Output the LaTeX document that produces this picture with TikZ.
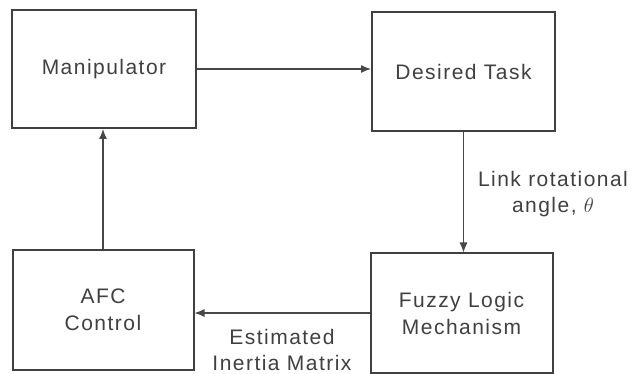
\documentclass[tikz,border=0pt]{standalone}
\usepackage{fontspec}
\setmainfont{Liberation Sans}[LetterSpace=7]
\usetikzlibrary{arrows.meta}
\definecolor{boxline}{gray}{0.25}
\definecolor{flowline}{gray}{0.28}
\definecolor{inktext}{gray}{0.25}
\tikzset{
  blk/.style={draw=boxline,line width=2pt,fill=white,align=center,text=inktext,
    font=\fontsize{21}{27}\selectfont,inner sep=0pt},
  flow/.style={draw=flowline,line width=1.2pt,-{Latex[length=10pt,width=8pt]}},
  note/.style={align=center,text=inktext,font=\fontsize{21}{26}\selectfont,inner sep=0pt},
}
\begin{document}
\begin{tikzpicture}[x=1pt,y=-1pt]
  \useasboundingbox (0,0) rectangle (632,374);
  \node[blk,minimum width=184pt,minimum height=118pt] (manip) at (104,69) {Manipulator};
  \node[blk,minimum width=183pt,minimum height=119pt] (task) at (463.5,72) {Desired Task};
  \node[blk,minimum width=181pt,minimum height=119pt] (afc) at (103,310) {AFC\\Control};
  \node[blk,minimum width=182pt,minimum height=119pt] (fuzzy) at (461.5,313) {Fuzzy Logic\\Mechanism};
  \draw[flow] (manip.east) -- (manip.east -| task.west);
  \draw[flow] (task.south) -- (task.south |- fuzzy.north);
  \draw[flow] (fuzzy.west) -- (fuzzy.west -| afc.east);
  \draw[flow] (afc.north) -- (afc.north |- manip.south);
  \node[note] (angle) at (553,194) {Link rotational\\angle, $\theta$};
  \node[note] (inertia) at (282,350) {Estimated\\Inertia Matrix};
\end{tikzpicture}
\end{document}
